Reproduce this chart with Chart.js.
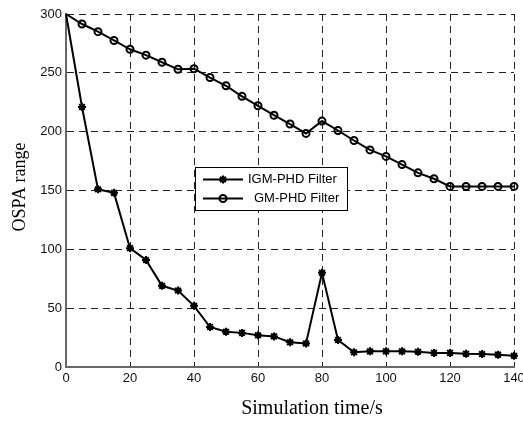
<!DOCTYPE html>
<html>
<head>
<meta charset="utf-8">
<script src="https://cdn.jsdelivr.net/npm/chart.js@4.4.1/dist/chart.umd.min.js"></script>
<style>
    body { margin: 0; background: #fff; }
    canvas { display: block; }
</style>
</head>
<body>
<canvas id="ospaChart" width="523" height="421"></canvas>
<script>
// Chart data
const timeSteps = [0, 5, 10, 15, 20, 25, 30, 35, 40, 45, 50, 55, 60, 65, 70, 75, 80, 85, 90, 95, 100, 105, 110, 115, 120, 125, 130, 135, 140];
const igmPhd = [300, 221, 151, 148, 101, 91, 69, 65, 52, 34, 30, 29, 27, 26, 21, 20, 80, 23, 12.5, 13.3, 13.3, 13.3, 13, 12, 12, 11.3, 11, 10.5, 9.5];
const gmPhd = [300, 291.5, 285, 277.5, 270, 265, 259, 253, 253.5, 246, 239, 230, 222, 214, 206.5, 198.5, 209, 201, 192.5, 184.5, 179, 172, 165, 160, 153.5, 153.5, 153.5, 153.5, 153.5];
const seriesNames = ['IGM-PHD Filter', 'GM-PHD Filter'];
const xTicks = [0, 20, 40, 60, 80, 100, 120, 140];
const yTicks = [0, 50, 100, 150, 200, 250, 300];
const xTitle = 'Simulation time/s';
const yTitle = 'OSPA range';

function toPoints(values) {
    return values.map((v, i) => ({ x: timeSteps[i], y: v }));
}

// no marker on the starting point (t = 0)
function markerSize(size) {
    return function(context) {
        return context.dataIndex === 0 ? 0 : size;
    };
}

// Legend box drawn inside the plot, like the MATLAB one
const legendBox = {
    id: 'legendBox',
    afterDraw(chart) {
        const ctx = chart.ctx;
        ctx.save();
        ctx.fillStyle = '#fff';
        ctx.fillRect(195.5, 167.5, 152, 43);
        ctx.strokeStyle = '#000';
        ctx.lineWidth = 1;
        ctx.strokeRect(195.5, 167.5, 152, 43);

        const textX = [248, 254];
        const sizes = [4, 3.5];
        chart.data.datasets.forEach((ds, i) => {
            const y = 179.5 + i * 19;
            ctx.strokeStyle = '#000';
            ctx.lineWidth = 2;
            ctx.beginPath();
            ctx.moveTo(203, y);
            ctx.lineTo(243, y);
            ctx.stroke();

            ctx.fillStyle = ds.pointBackgroundColor;
            ctx.strokeStyle = '#000';
            ctx.lineWidth = ds.pointBorderWidth;
            Chart.helpers.drawPoint(ctx, {
                pointStyle: ds.pointStyle,
                radius: sizes[i],
                borderWidth: ds.pointBorderWidth,
                rotation: 0
            }, 223, y);

            ctx.fillStyle = '#000';
            ctx.font = '13px "Liberation Sans", Arial, sans-serif';
            ctx.textBaseline = 'middle';
            ctx.textAlign = 'left';
            ctx.fillText(ds.label, textX[i], y);
        });
        ctx.restore();
    }
};

// Axis titles in serif type
const axisTitles = {
    id: 'axisTitles',
    afterDraw(chart) {
        const ctx = chart.ctx;
        ctx.save();
        ctx.fillStyle = '#000';
        ctx.textAlign = 'center';
        ctx.textBaseline = 'middle';
        ctx.font = '20px "Liberation Serif", "Times New Roman", serif';
        ctx.fillText(xTitle, 312, 409);
        ctx.translate(20, 187);
        ctx.rotate(-Math.PI / 2);
        ctx.font = '18px "Liberation Serif", "Times New Roman", serif';
        ctx.fillText(yTitle, 0, 0);
        ctx.restore();
    }
};

const gridStyle = {
    color: '#222',
    lineWidth: 1,
    drawTicks: false
};
const borderStyle = {
    display: true,
    color: '#666',
    width: 2,
    dash: [7, 5]
};
const tickFont = { family: '"Liberation Sans", Arial, sans-serif', size: 13 };

const ctx = document.getElementById('ospaChart').getContext('2d');
new Chart(ctx, {
    type: 'line',
    data: {
        datasets: [
            {
                label: seriesNames[0],
                data: toPoints(igmPhd),
                borderColor: '#000',
                borderWidth: 2,
                pointStyle: 'star',
                pointRadius: markerSize(4),
                pointBorderWidth: 2,
                pointBackgroundColor: '#000',
                pointBorderColor: '#000',
                tension: 0,
                clip: false
            },
            {
                label: seriesNames[1],
                data: toPoints(gmPhd),
                borderColor: '#000',
                borderWidth: 2,
                pointStyle: 'circle',
                pointRadius: markerSize(3.5),
                pointBorderWidth: 2,
                pointBackgroundColor: 'rgba(0,0,0,0)',
                pointBorderColor: '#000',
                tension: 0,
                clip: false
            }
        ]
    },
    options: {
        responsive: false,
        animation: false,
        layout: {
            padding: { top: 14, right: 9, left: 0, bottom: 0 }
        },
        plugins: {
            legend: { display: false },
            tooltip: { enabled: false }
        },
        scales: {
            x: {
                type: 'linear',
                min: 0,
                max: 140,
                grid: { ...gridStyle },
                border: { ...borderStyle },
                afterBuildTicks: function(scale) {
                    scale.ticks = xTicks.map(v => ({ value: v }));
                },
                ticks: {
                    font: tickFont,
                    color: '#111',
                    padding: 4,
                    maxRotation: 0,
                    autoSkip: false
                },
                afterFit: function(scale) {
                    scale.height = 54;
                    scale.paddingLeft = 0;
                    scale.paddingRight = 0;
                }
            },
            y: {
                min: 0,
                max: 300,
                grid: { ...gridStyle },
                border: { ...borderStyle },
                afterBuildTicks: function(scale) {
                    scale.ticks = yTicks.map(v => ({ value: v }));
                },
                ticks: {
                    font: tickFont,
                    color: '#111',
                    padding: 4
                },
                afterFit: function(scale) {
                    scale.width = 66;
                    scale.paddingTop = 0;
                    scale.paddingBottom = 0;
                }
            }
        }
    },
    plugins: [legendBox, axisTitles]
});
</script>
</body>
</html>
